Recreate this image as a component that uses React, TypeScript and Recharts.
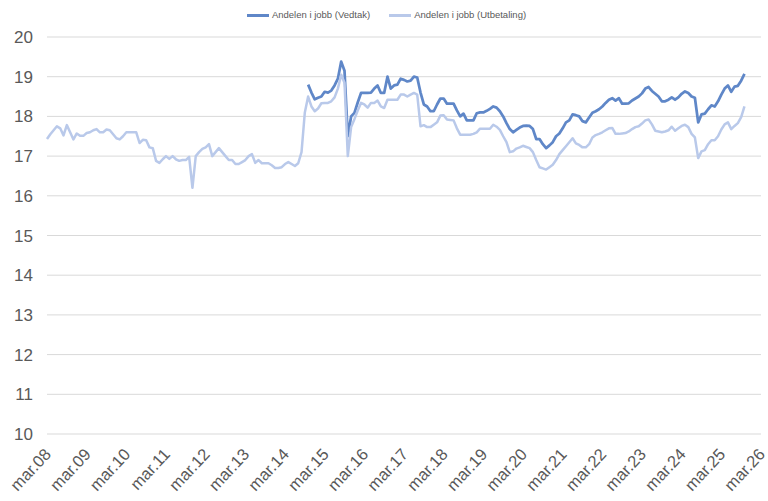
import { CartesianGrid, Legend, Line, LineChart, XAxis, YAxis } from 'recharts';

const VEDTAK_COLOR = '#5f87c8';
const UTBETALING_COLOR = '#b9c9ea';
const TEXT_COLOR = '#595959';
const FONT = '"Liberation Sans", Arial, sans-serif';

const monthNames = ['jan', 'feb', 'mar', 'apr', 'mai', 'jun', 'jul', 'aug', 'sep', 'okt', 'nov', 'des'];

// monthly categories, mar.08 .. mar.26
const months: string[] = Array.from({ length: 217 }, (_, i) => {
  const m = (i + 2) % 12;
  const y = 8 + Math.floor((i + 2) / 12);
  return `${monthNames[m]}.${String(y).padStart(2, '0')}`;
});

const yTicks = [10, 11, 12, 13, 14, 15, 16, 17, 18, 19, 20];

// Andelen i jobb (Utbetaling), from mar.08
const utbetaling = [
  17.43, 17.55, 17.65, 17.75, 17.7, 17.52, 17.78, 17.6, 17.42, 17.57, 17.51, 17.51,
  17.58, 17.6, 17.65, 17.68, 17.6, 17.6, 17.67, 17.65, 17.55, 17.45, 17.42, 17.5,
  17.6, 17.6, 17.6, 17.6, 17.33, 17.41, 17.4, 17.22, 17.2, 16.88, 16.83, 16.92,
  17.0, 16.93, 17.0, 16.92, 16.88, 16.9, 16.9, 16.98, 16.2, 17.0, 17.1, 17.18,
  17.22, 17.3, 17.0, 17.1, 17.2, 17.1, 17.0, 16.9, 16.9, 16.8, 16.8, 16.85,
  16.9, 17.0, 17.05, 16.83, 16.9, 16.82, 16.82, 16.82, 16.77, 16.7, 16.7, 16.72,
  16.8, 16.85, 16.8, 16.75, 16.82, 17.1, 18.1, 18.5, 18.25, 18.13, 18.2, 18.33,
  18.34, 18.34, 18.38, 18.48, 18.7, 19.05, 18.85, 17.0, 17.73, 17.93, 18.15, 18.34,
  18.3, 18.22, 18.34, 18.34, 18.4, 18.25, 18.21, 18.42, 18.42, 18.42, 18.42, 18.55,
  18.55, 18.5, 18.55, 18.59, 18.55, 17.75, 17.78, 17.73, 17.73, 17.79, 17.85, 18.02,
  18.03, 17.92, 17.91, 17.9, 17.7, 17.54, 17.54, 17.54, 17.54, 17.56, 17.6, 17.69,
  17.69, 17.69, 17.69, 17.79, 17.74, 17.66, 17.5, 17.35, 17.1, 17.12, 17.19, 17.22,
  17.26, 17.23, 17.2, 17.1, 16.9, 16.72, 16.69, 16.66, 16.72, 16.78, 16.9, 17.05,
  17.15, 17.25, 17.35, 17.45, 17.32, 17.28, 17.22, 17.22, 17.3, 17.47, 17.53, 17.56,
  17.6, 17.65, 17.7, 17.71, 17.56, 17.56, 17.57, 17.58, 17.62, 17.68, 17.73, 17.75,
  17.82, 17.9, 17.92, 17.8, 17.64, 17.62, 17.6, 17.62, 17.65, 17.74, 17.64, 17.7,
  17.76, 17.79, 17.73, 17.56, 17.47, 16.95, 17.12, 17.15, 17.3, 17.4, 17.4, 17.5,
  17.67, 17.8, 17.85, 17.68, 17.76, 17.83, 17.98, 18.25,
];

// Andelen i jobb (Vedtak), from okt.14
const vedtakFrom = 'okt.14';
const vedtak = [
  18.8, 18.6, 18.43, 18.47, 18.5, 18.62, 18.6, 18.65, 18.78, 18.95, 19.38, 19.15,
  17.5, 18.0, 18.09, 18.35, 18.59, 18.59, 18.59, 18.6, 18.7, 18.78, 18.59, 18.59,
  19.0, 18.7, 18.78, 18.8, 18.95, 18.92, 18.88, 18.9, 19.0, 18.98, 18.6, 18.3,
  18.25, 18.13, 18.13, 18.3, 18.45, 18.45, 18.32, 18.32, 18.32, 18.15, 18.0, 18.07,
  17.9, 17.9, 17.9, 18.08, 18.1, 18.1, 18.14, 18.19, 18.25, 18.22, 18.13, 18.0,
  17.83, 17.68, 17.6, 17.66, 17.72, 17.76, 17.77, 17.76, 17.68, 17.43, 17.43, 17.3,
  17.2, 17.27, 17.35, 17.5, 17.57, 17.7, 17.85, 17.9, 18.05, 18.03, 18.0, 17.88,
  17.85, 17.97, 18.09, 18.13, 18.18, 18.25, 18.34, 18.42, 18.46, 18.4, 18.46, 18.32,
  18.32, 18.33, 18.4, 18.45, 18.5, 18.58, 18.7, 18.74, 18.64, 18.57, 18.5, 18.38,
  18.38, 18.42, 18.48, 18.42, 18.48, 18.57, 18.63, 18.59, 18.5, 18.47, 17.85, 18.05,
  18.07, 18.18, 18.28, 18.25, 18.38, 18.55, 18.7, 18.78, 18.62, 18.75, 18.77, 18.9,
  19.07,
];

const vedtakStart = months.indexOf(vedtakFrom);

const chartData = months.map((month, i) => ({
  month,
  utbetaling: i < utbetaling.length ? utbetaling[i] : null,
  vedtak: i >= vedtakStart && i - vedtakStart < vedtak.length ? vedtak[i - vedtakStart] : null,
}));

const legendItems = [
  { label: 'Andelen i jobb (Vedtak)', color: VEDTAK_COLOR },
  { label: 'Andelen i jobb (Utbetaling)', color: UTBETALING_COLOR },
];

function ChartLegend() {
  return (
    <div
      style={{
        height: 32,
        display: 'flex',
        justifyContent: 'center',
        alignItems: 'flex-start',
        paddingLeft: 12,
        gap: 19,
        fontFamily: FONT,
        fontSize: 9.5,
        color: TEXT_COLOR,
        lineHeight: '20px',
      }}
    >
      {legendItems.map((item) => (
        <div key={item.label} style={{ display: 'flex', alignItems: 'center' }}>
          <span style={{ display: 'inline-block', width: 22, height: 3, background: item.color, marginRight: 3 }} />
          <span>{item.label}</span>
        </div>
      ))}
    </div>
  );
}

function MonthTick({ x, y, payload }: any) {
  return (
    <g transform={`translate(${x + 5},${y + 21})`}>
      <text textAnchor="end" transform="rotate(-47)" fontSize={16.5} fill={TEXT_COLOR} fontFamily={FONT}>
        {payload.value}
      </text>
    </g>
  );
}

export default function App() {
  return (
    <div style={{ position: 'absolute', left: 0, top: 0, width: 768, height: 501, background: '#fff' }}>
      <LineChart width={768} height={501} data={chartData} margin={{ top: 5, right: 7, bottom: 0, left: 0 }}>
        <CartesianGrid vertical={false} stroke="#d9d9d9" />
        <Legend verticalAlign="top" align="center" content={() => <ChartLegend />} />
        <XAxis
          dataKey="month"
          interval={11}
          axisLine={false}
          tickLine={false}
          tickSize={0}
          tickMargin={0}
          height={67}
          tick={<MonthTick />}
        />
        <YAxis
          domain={[10, 20]}
          ticks={yTicks}
          width={47}
          axisLine={false}
          tickLine={false}
          tickSize={0}
          tickMargin={14}
          tick={{ fontSize: 17, fill: TEXT_COLOR, fontFamily: FONT }}
        />
        <Line
          dataKey="vedtak"
          stroke={VEDTAK_COLOR}
          strokeWidth={2.75}
          strokeLinejoin="round"
          dot={false}
          isAnimationActive={false}
        />
        <Line
          dataKey="utbetaling"
          stroke={UTBETALING_COLOR}
          strokeWidth={2.5}
          strokeLinejoin="round"
          dot={false}
          isAnimationActive={false}
        />
      </LineChart>
    </div>
  );
}
